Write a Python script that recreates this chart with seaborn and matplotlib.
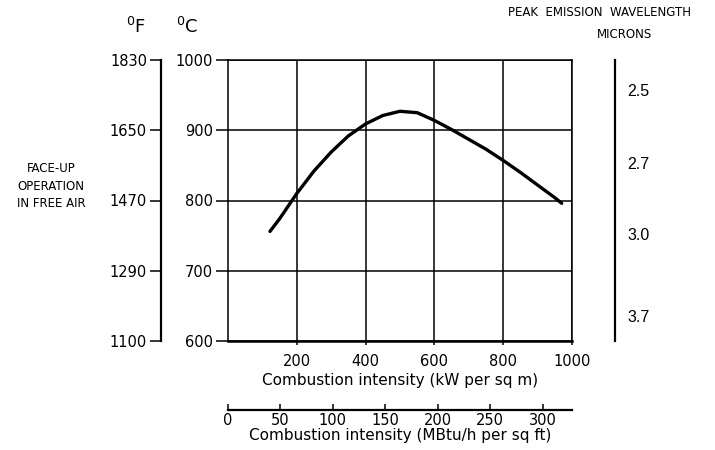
import matplotlib
matplotlib.use('Agg')
import matplotlib.pyplot as plt
import seaborn as sns
import pandas as pd

# values
intensity_kw = [122, 150, 200, 250, 300, 350, 400, 450, 500, 550, 600, 650, 700, 750, 800, 850, 900, 950, 970]
temp_c = [756, 774, 810, 842, 869, 892, 909, 921, 927, 925, 914, 901, 887, 873, 857, 840, 822, 804, 796]

c_ticks = [600, 700, 800, 900, 1000]
f_labels = ['1100', '1290', '1470', '1650', '1830']
kw_ticks = [200, 400, 600, 800, 1000]
mbtu_ticks = [0, 50, 100, 150, 200, 250, 300]
micron_pos = [957, 853, 753, 636]
micron_labels = ['2.5', '2.7', '3.0', '3.7']
KW_PER_MBTU = 3.05

sns.set_theme(style='white')
plt.rcParams['font.family'] = ['DejaVu Sans']
plt.rcParams['text.color'] = 'black'
plt.rcParams['axes.labelcolor'] = 'black'
plt.rcParams['xtick.color'] = 'black'
plt.rcParams['ytick.color'] = 'black'

fig = plt.figure(figsize=(7.15, 4.5), dpi=100)
ax = fig.add_axes([228 / 715, 109 / 450, 344 / 715, 281 / 450])

df = pd.DataFrame({'kw': intensity_kw, 'c': temp_c})
sns.lineplot(data=df, x='kw', y='c', ax=ax, color='black', linewidth=2.4)

ax.set_xlim(0, 1000)
ax.set_ylim(600, 1000)
ax.set_xticks(kw_ticks)
ax.set_yticks(c_ticks)
ax.grid(True, color='black', linewidth=1.1)
for s in ax.spines.values():
    s.set_color('black')
    s.set_linewidth(1.1)
ax.spines['bottom'].set_linewidth(1.8)
ax.tick_params(axis='y', direction='out', length=9, width=1.1,
               labelsize=10.5, pad=2, left=True)
ax.tick_params(axis='x', direction='out', length=3, width=1.1,
               labelsize=10.5, pad=6, bottom=True)
ax.set_xlabel('Combustion intensity (kW per sq m)', fontsize=11, labelpad=3)
ax.set_ylabel('')

# Fahrenheit scale on the far left
ax_f = ax.secondary_yaxis(-0.195)
ax_f.set_yticks(c_ticks)
ax_f.set_yticklabels(f_labels)
ax_f.spines['left'].set_linewidth(1.6)
ax_f.spines['left'].set_color('black')
ax_f.tick_params(axis='y', direction='out', length=8, width=1.1,
                 labelsize=10.5, pad=2)

# peak emission wavelength scale on the right
ax_m = ax.secondary_yaxis(1.125)
ax_m.set_yticks(micron_pos)
ax_m.set_yticklabels(micron_labels, family='Liberation Sans')
ax_m.spines['right'].set_linewidth(1.6)
ax_m.spines['right'].set_color('black')
ax_m.tick_params(axis='y', length=0, labelsize=11.5, pad=9)

# second intensity scale below
ax_b = ax.secondary_xaxis(-0.2456, functions=(lambda k: k / KW_PER_MBTU, lambda m: m * KW_PER_MBTU))
ax_b.set_xticks(mbtu_ticks)
ax_b.spines['bottom'].set_linewidth(1.6)
ax_b.spines['bottom'].set_color('black')
ax_b.tick_params(axis='x', direction='in', length=4, width=1.1,
                 labelsize=10.5, pad=2)
ax_b.set_xlabel('Combustion intensity (MBtu/h per sq ft)', fontsize=11, labelpad=0)

fig.text(136 / 715, 1 - 27 / 450, r'$^{0}$F', fontsize=13, ha='center', va='center')
fig.text(187 / 715, 1 - 27 / 450, r'$^{0}$C', fontsize=13, ha='center', va='center')
fig.text(51 / 715, 1 - 186 / 450, 'FACE-UP\nOPERATION\nIN FREE AIR', fontsize=8.5,
         ha='center', va='center', linespacing=1.45)
fig.text(600 / 715, 1 - 13 / 450, 'PEAK  EMISSION  WAVELENGTH', fontsize=8.5,
         ha='center', va='center')
fig.text(625 / 715, 1 - 34 / 450, 'MICRONS', fontsize=8.5, ha='center', va='center')

fig.savefig('out.png', dpi=100)
